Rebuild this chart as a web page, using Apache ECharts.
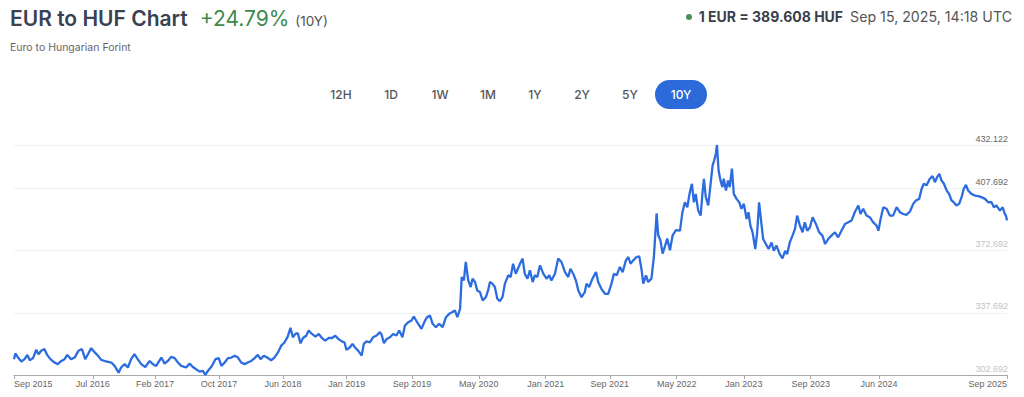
<!DOCTYPE html>
<html>
<head>
<meta charset="utf-8">
<title>EUR to HUF Chart</title>
<script src="https://cdn.jsdelivr.net/npm/echarts@6.0.0/dist/echarts.min.js"></script>
<style>
  html, body { margin: 0; padding: 0; background: #fff; overflow: hidden; }
  body { width: 1024px; height: 397px; position: relative; font-family: Inter, "Noto Sans", sans-serif; }
  #chart { position: absolute; left: 0; top: 0; width: 1024px; height: 397px; }
  .abs { position: absolute; white-space: nowrap; }
  #title { left: 10px; top: 6px; font-size: 21px; line-height: 26px; font-weight: 600; color: #394152; }
  #change { color: #3f8a4b; font-weight: 400; margin-left: 12px; }
  #period { color: #555; font-size: 13.5px; font-weight: 400; margin-left: 6px; }
  #sub { left: 10px; top: 41px; font-size: 10.5px; line-height: 14px; color: #666; }
  #rate { right: 12px; top: 7px; font-size: 14.2px; line-height: 20px; color: #555; }
  #rate b { color: #3a3f4a; font-weight: 700; font-size: 14px; margin-right: 7px; }
  #rate .dot { display: inline-block; width: 6px; height: 6px; border-radius: 3px; background: #4b8f57; margin-right: 7px; vertical-align: 2px; }
  .btn { top: 80px; height: 29px; line-height: 29px; font-size: 12px; font-weight: 500; color: #555; text-align: center; }
  .btn.on { background: #2c6ad9; color: #fff; border-radius: 15px; }
</style>
</head>
<body>
<div id="chart"></div>
<div id="title" class="abs">EUR to HUF Chart<span id="change">+24.79%</span><span id="period">(10Y)</span></div>
<div id="sub" class="abs">Euro to Hungarian Forint</div>
<div id="rate" class="abs"><span class="dot"></span><b>1 EUR = 389.608 HUF</b>Sep 15, 2025, 14:18 UTC</div>
<div class="abs btn" style="left:321px;width:40px">12H</div>
<div class="abs btn" style="left:371px;width:40px">1D</div>
<div class="abs btn" style="left:420px;width:40px">1W</div>
<div class="abs btn" style="left:468px;width:40px">1M</div>
<div class="abs btn" style="left:515px;width:40px">1Y</div>
<div class="abs btn" style="left:562px;width:40px">2Y</div>
<div class="abs btn" style="left:610px;width:40px">5Y</div>
<div class="abs btn on" style="left:655px;width:52px">10Y</div>
<script>
  // EUR/HUF
  const dates = [
    '2015-09-15','2015-09-20','2015-09-30','2015-10-12','2015-10-24','2015-11-03','2015-11-12','2015-11-24','2015-12-06','2015-12-14','2015-12-24',
    '2016-01-05','2016-01-15','2016-01-27','2016-02-11','2016-02-23','2016-03-07','2016-03-19','2016-03-29','2016-04-12','2016-04-25','2016-05-09',
    '2016-05-22','2016-06-03','2016-06-13','2016-06-25','2016-07-08','2016-07-20','2016-08-01','2016-08-19','2016-09-07','2016-09-19','2016-10-04',
    '2016-10-13','2016-10-26','2016-11-07','2016-11-19','2016-12-01','2016-12-13','2016-12-26','2017-01-10','2017-01-26','2017-02-07','2017-02-19',
    '2017-03-10','2017-03-22','2017-04-03','2017-04-15','2017-04-28','2017-05-10','2017-05-22','2017-06-09','2017-06-22','2017-07-04','2017-07-16',
    '2017-07-29','2017-08-10','2017-08-19','2017-08-28','2017-09-12','2017-09-25','2017-10-07','2017-10-17','2017-10-29','2017-11-10','2017-11-23',
    '2017-12-05','2017-12-17','2017-12-29','2018-01-10','2018-01-22','2018-02-04','2018-02-16','2018-02-28','2018-03-10','2018-03-22','2018-04-03',
    '2018-04-18','2018-04-30','2018-05-13','2018-05-25','2018-06-06','2018-06-18','2018-06-28','2018-07-07','2018-07-16','2018-07-25','2018-08-04',
    '2018-08-13','2018-08-25','2018-09-03','2018-09-15','2018-09-28','2018-10-10','2018-10-22','2018-11-03','2018-11-15','2018-11-28','2018-12-10',
    '2018-12-22','2019-01-03','2019-01-13',
    '2019-01-20','2019-02-02','2019-02-11','2019-02-20','2019-03-04','2019-03-17','2019-03-25','2019-04-04','2019-04-16','2019-04-28','2019-05-11',
    '2019-05-23','2019-05-29','2019-06-07','2019-06-17','2019-06-29','2019-07-11','2019-07-23','2019-08-02','2019-08-14','2019-08-23','2019-09-04',
    '2019-09-16','2019-09-25','2019-10-07','2019-10-23','2019-11-05','2019-11-13','2019-11-23','2019-12-03','2019-12-15','2019-12-27','2020-01-09',
    '2020-01-21','2020-02-02','2020-02-14','2020-02-23','2020-03-03','2020-03-13','2020-03-19','2020-03-27','2020-04-03','2020-04-12','2020-04-21',
    '2020-04-28','2020-05-07','2020-05-15','2020-05-25','2020-06-04','2020-06-16','2020-06-24','2020-07-01','2020-07-10','2020-07-19','2020-07-28',
    '2020-08-06','2020-08-16','2020-08-25','2020-09-06','2020-09-15','2020-09-24','2020-10-04','2020-10-17','2020-10-29','2020-11-06','2020-11-16',
    '2020-11-25','2020-12-05','2020-12-13','2020-12-22','2021-01-01','2021-01-13','2021-01-25','2021-02-04','2021-02-12','2021-02-25','2021-03-09',
    '2021-03-21','2021-04-03','2021-04-15','2021-04-23','2021-05-03','2021-05-13','2021-05-22','2021-06-03','2021-06-15','2021-06-21','2021-07-01',
    '2021-07-13','2021-07-26','2021-08-03','2021-08-15','2021-08-28','2021-09-09','2021-09-21','2021-09-30','2021-10-10','2021-10-22','2021-11-01',
    '2021-11-13','2021-11-22','2021-11-30','2021-12-10','2021-12-22','2022-01-01','2022-01-10','2022-01-16','2022-01-26','2022-02-03','2022-02-15',
    '2022-02-24','2022-03-06','2022-03-12','2022-03-20','2022-03-28','2022-04-05','2022-04-14','2022-04-24','2022-05-04','2022-05-16',
    '2022-05-31','2022-06-09','2022-06-18','2022-06-27','2022-07-04','2022-07-09','2022-07-14','2022-07-21','2022-07-28','2022-08-06','2022-08-15',
    '2022-08-22','2022-08-27','2022-09-03','2022-09-12','2022-09-20','2022-09-28','2022-10-04','2022-10-10','2022-10-14','2022-10-20','2022-10-27',
    '2022-11-03','2022-11-08','2022-11-16','2022-11-24','2022-11-30','2022-12-08','2022-12-15','2022-12-25','2023-01-04','2023-01-12','2023-01-21',
    '2023-01-31','2023-02-07','2023-02-14','2023-02-22','2023-03-04','2023-03-11','2023-03-18','2023-03-26','2023-04-02','2023-04-12','2023-04-22',
    '2023-05-03','2023-05-11','2023-05-21','2023-06-02','2023-06-12','2023-06-22','2023-06-29','2023-07-09','2023-07-19','2023-07-28','2023-08-05',
    '2023-08-15','2023-08-25','2023-09-02','2023-09-11','2023-09-21','2023-10-01','2023-10-13','2023-10-25','2023-11-06','2023-11-16','2023-11-27',
    '2023-12-09','2023-12-22','2024-01-03','2024-01-15','2024-01-28','2024-02-09','2024-02-21','2024-03-04','2024-03-17','2024-03-25','2024-04-04',
    '2024-04-16','2024-04-28','2024-05-11','2024-05-23','2024-05-30','2024-06-07','2024-06-17','2024-06-29','2024-07-11','2024-07-23','2024-08-05',
    '2024-08-17','2024-08-29','2024-09-10','2024-09-23','2024-10-05','2024-10-15','2024-10-27','2024-11-05','2024-11-13','2024-11-23','2024-12-05',
    '2024-12-15','2024-12-24','2025-01-01','2025-01-09','2025-01-17','2025-01-26','2025-02-05','2025-02-14','2025-02-23','2025-03-03','2025-03-13',
    '2025-03-23','2025-04-01','2025-04-09','2025-04-17','2025-04-25','2025-05-07','2025-05-20','2025-06-01','2025-06-13','2025-06-26','2025-07-08',
    '2025-07-20','2025-07-29','2025-08-07','2025-08-20','2025-08-30','2025-09-07','2025-09-11','2025-09-15'
  ];
  const rates = [
    311.6,314.8,312.5,310.3,311.6,314.0,311.0,312.2,316.9,314.4,316.3,
    317.3,314.0,311.6,309.7,308.8,310.6,311.6,314.0,311.6,312.5,316.3,
    317.3,311.6,314.4,317.8,315.4,313.5,311.2,310.3,309.7,307.8,304.0,
    306.9,308.8,306.9,311.6,314.4,311.6,308.8,307.2,310.6,308.8,307.8,
    312.5,309.1,310.6,312.9,312.2,309.7,307.8,306.9,309.1,307.2,305.9,
    304.6,305.0,302.7,305.0,307.8,311.6,312.2,307.8,309.7,312.2,312.5,
    313.5,312.5,309.7,308.8,309.7,310.6,312.2,314.0,311.6,313.5,312.5,
    311.0,312.5,315.4,319.2,321.0,324.3,329.2,323.9,325.8,326.2,320.5,
    323.5,324.8,327.7,325.8,324.3,325.8,323.5,322.0,323.5,323.5,324.8,
    322.9,321.6,321.0,
    316.8,318.3,320.2,318.3,316.4,313.6,320.2,321.7,321.1,323.9,324.9,
    326.8,325.5,320.6,323.0,323.9,325.8,324.9,327.7,323.9,330.5,332.4,
    333.3,335.6,332.4,328.7,333.3,335.2,336.2,331.5,329.6,331.5,329.6,
    335.2,337.1,338.1,339.0,335.2,339.9,357.8,355.9,366.3,355.9,352.2,
    356.9,355.0,350.3,349.4,344.7,346.5,350.3,355.0,354.1,352.2,345.6,
    344.3,346.5,354.1,358.8,357.8,365.3,359.7,364.4,368.2,359.7,356.9,
    361.6,355.0,358.8,357.8,364.4,359.7,356.9,358.8,355.9,359.7,368.2,
    366.3,360.6,357.8,362.5,359.7,355.9,350.3,346.5,349.4,354.1,352.2,
    356.9,360.6,355.0,351.2,348.4,348.4,354.1,359.7,358.8,363.5,360.6,
    367.2,369.1,365.3,367.2,369.1,369.5,361.6,354.1,358.8,355.0,356.9,
    369.1,393.6,381.3,378.5,371.0,374.8,379.5,372.9,381.3,384.2,
    383.9,394.3,399.9,397.1,403.7,407.5,410.3,399.9,404.6,395.2,392.4,
    405.6,413.1,402.8,398.1,409.4,420.7,423.5,427.2,432.122,417.8,412.2,
    408.4,413.1,406.5,412.2,408.4,418.8,404.6,401.8,399.9,396.2,399.0,
    390.5,394.3,386.8,383.0,373.6,383.0,399.9,388.6,379.2,376.4,373.6,
    377.3,372.6,375.5,370.7,368.3,372.6,370.7,377.3,381.1,384.9,392.4,
    386.8,383.0,388.6,383.9,385.8,391.5,387.7,383.0,381.1,376.4,379.2,
    381.1,383.0,380.2,383.9,387.7,388.6,389.6,394.3,398.1,393.3,396.2,
    392.4,391.5,388.6,386.8,383.9,390.5,397.1,396.2,392.4,392.4,397.1,
    394.3,393.3,392.8,394.7,399.0,400.9,401.8,407.5,410.3,409.4,413.1,
    414.6,411.2,414.1,415.9,412.2,410.3,406.5,404.6,400.9,399.9,398.1,
    399.0,402.8,407.5,409.7,406.5,404.6,403.7,403.3,402.8,401.8,399.9,
    399.9,397.1,398.1,395.2,397.1,393.3,392.4,389.608
  ];
  const xTicks = ['2015-09-15','2016-07-01','2017-02-15','2017-10-08','2018-06-01','2019-01-21','2019-09-18',
    '2020-05-21','2021-01-22','2021-09-15','2022-05-19','2023-01-21','2023-09-24','2024-06-01','2025-09-15'];
  const yTicks = [302.692, 337.692, 372.692, 407.692, 432.122];
  const MONTHS = ['Jan','Feb','Mar','Apr','May','Jun','Jul','Aug','Sep','Oct','Nov','Dec'];

  // value axis on UTC timestamps, so custom tick positions work
  const ts = s => Date.parse(s + 'T00:00:00Z');
  const xTickTs = xTicks.map(ts);

  const chart = echarts.init(document.getElementById('chart'), null, { renderer: 'svg' });
  chart.setOption({
    animation: false,
    grid: { left: 14, right: 17, top: 145, bottom: 22, outerBoundsMode: 'none' },
    xAxis: {
      type: 'value',
      min: ts('2015-09-15'),
      max: ts('2025-09-15'),
      axisLine: { lineStyle: { color: '#a9a9a9', width: 1 } },
      axisTick: { show: true, length: 4, lineStyle: { color: '#a9a9a9' }, customValues: xTickTs },
      axisLabel: {
        customValues: xTickTs,
        color: '#666',
        fontSize: 9,
        fontFamily: 'Liberation Sans',
        margin: 4,
        alignMinLabel: 'left',
        alignMaxLabel: 'right',
        formatter: function (v) {
          const d = new Date(v);
          return MONTHS[d.getUTCMonth()] + ' ' + d.getUTCFullYear();
        }
      },
      splitLine: { show: false }
    },
    yAxis: {
      type: 'value',
      position: 'right',
      min: 302.692,
      max: 432.122,
      axisLine: { show: false },
      axisTick: { show: false, customValues: yTicks },
      axisLabel: {
        customValues: yTicks,
        inside: true,
        margin: -1,
        verticalAlign: 'bottom',
        padding: [0, 0, 2, 0],
        fontSize: 9,
        fontFamily: 'Liberation Sans',
        color: function (v) { return v > 400 ? '#666' : '#c2c2c2'; },
        formatter: function (v) { return Number(v).toFixed(3); }
      },
      splitLine: { show: true, lineStyle: { color: '#eef1f5', width: 1 } }
    },
    series: [{
      type: 'line',
      data: dates.map((d, i) => [ts(d), rates[i]]),
      showSymbol: false,
      lineStyle: { color: '#2d6cdf', width: 2.3 },
      itemStyle: { color: '#2d6cdf' }
    }]
  });
</script>
</body>
</html>
